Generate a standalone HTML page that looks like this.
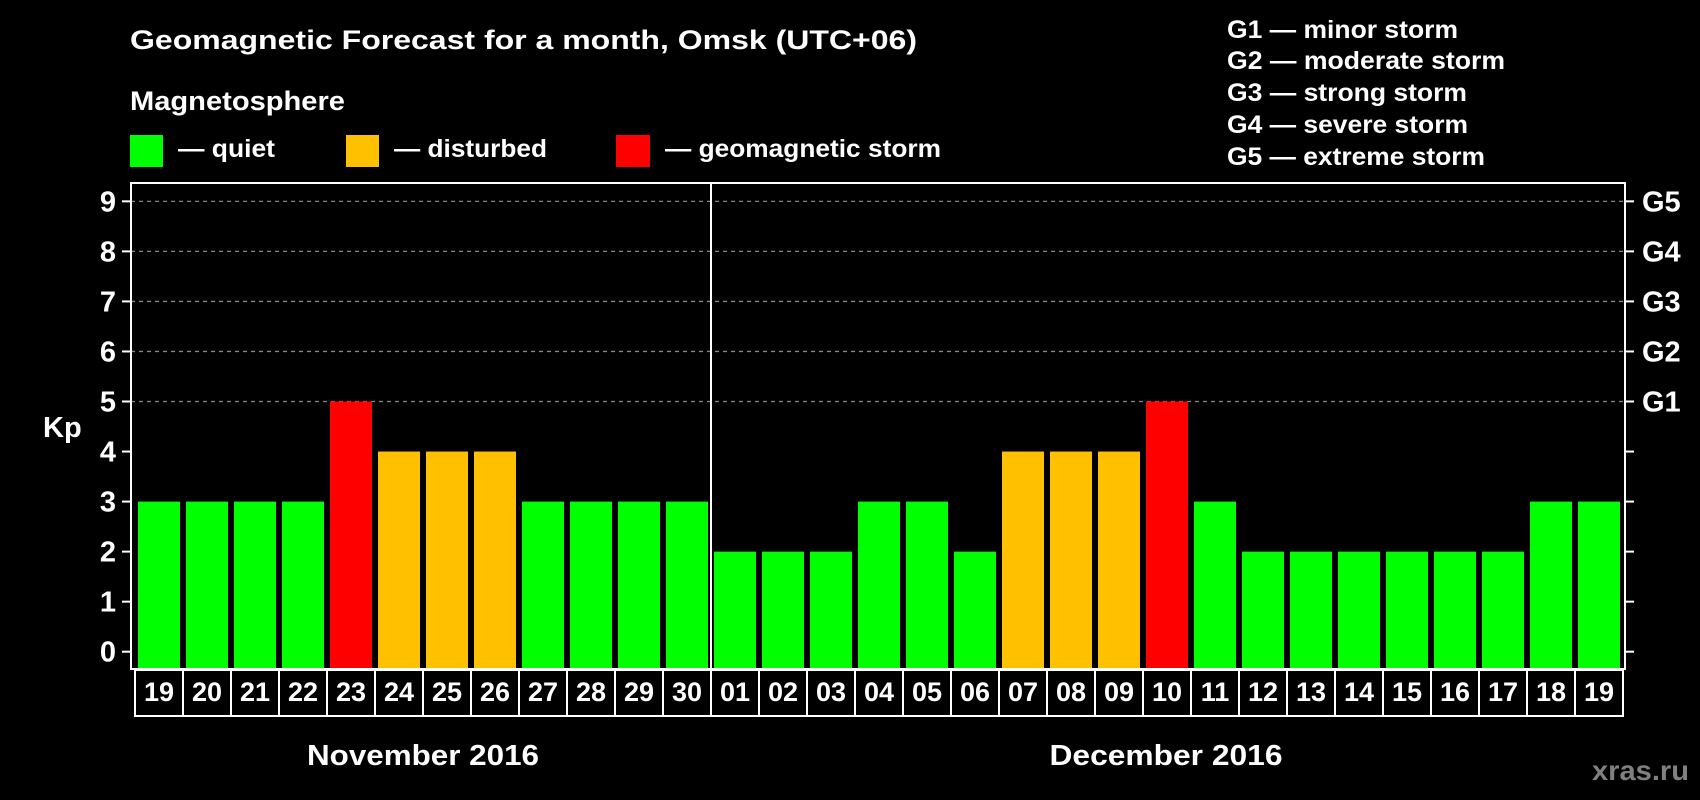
<!DOCTYPE html>
<html><head><meta charset="utf-8"><style>
html,body{margin:0;padding:0;background:#000;}
svg{display:block;font-family:"Liberation Sans",Arial,sans-serif;font-weight:bold;}
</style></head><body>
<svg id="chart" width="1700" height="800" viewBox="0 0 1700 800">
<rect x="0" y="0" width="1700" height="800" fill="#000"/>
<text x="130" y="49" font-size="27" fill="#fff" textLength="787" lengthAdjust="spacingAndGlyphs">Geomagnetic Forecast for a month, Omsk (UTC+06)</text>
<text x="130" y="110" font-size="27" fill="#fff" textLength="215" lengthAdjust="spacingAndGlyphs">Magnetosphere</text>
<g>
<rect x="130" y="135" width="33" height="32" fill="#00ff00"/>
<text x="178" y="157" font-size="25" fill="#fff" textLength="97" lengthAdjust="spacingAndGlyphs">— quiet</text>
</g>
<g>
<rect x="346" y="135" width="33" height="32" fill="#ffc000"/>
<text x="394" y="157" font-size="25" fill="#fff" textLength="153" lengthAdjust="spacingAndGlyphs">— disturbed</text>
</g>
<g>
<rect x="616" y="135" width="34" height="32" fill="#ff0000"/>
<text x="665" y="157" font-size="25" fill="#fff" textLength="276" lengthAdjust="spacingAndGlyphs">— geomagnetic storm</text>
</g>
<g>
<text x="1227" y="38" font-size="25" fill="#fff" textLength="231" lengthAdjust="spacingAndGlyphs">G1 — minor storm</text>
<text x="1227" y="69" font-size="25" fill="#fff" textLength="278" lengthAdjust="spacingAndGlyphs">G2 — moderate storm</text>
<text x="1227" y="101" font-size="25" fill="#fff" textLength="240" lengthAdjust="spacingAndGlyphs">G3 — strong storm</text>
<text x="1227" y="133" font-size="25" fill="#fff" textLength="241" lengthAdjust="spacingAndGlyphs">G4 — severe storm</text>
<text x="1227" y="165" font-size="25" fill="#fff" textLength="258" lengthAdjust="spacingAndGlyphs">G5 — extreme storm</text>
</g>
<g id="grid"></g>
<g id="bars"></g>
<rect x="131" y="183" width="1494" height="486" fill="none" stroke="#fff" stroke-width="2"/>
<line x1="711" y1="183" x2="711" y2="669" stroke="#fff" stroke-width="2"/>
<g id="yaxis"></g>
<g id="xaxis"></g>
<text x="43" y="437" font-size="29" fill="#fff">Kp</text>
<text x="423" y="765" font-size="29" fill="#fff" text-anchor="middle" textLength="232" lengthAdjust="spacingAndGlyphs">November 2016</text>
<text x="1166" y="765" font-size="29" fill="#fff" text-anchor="middle" textLength="233" lengthAdjust="spacingAndGlyphs">December 2016</text>
<text x="1689" y="780" font-size="28" fill="#808080" text-anchor="end" textLength="97" lengthAdjust="spacingAndGlyphs">xras.ru</text>
</svg>
<script>
const days = ["19","20","21","22","23","24","25","26","27","28","29","30","01","02","03","04","05","06","07","08","09","10","11","12","13","14","15","16","17","18","19"];
const kpValues = [3,3,3,3,5,4,4,4,3,3,3,3,2,2,2,3,3,2,4,4,4,5,3,2,2,2,2,2,2,3,3];
const yTicks = [0,1,2,3,4,5,6,7,8,9];
const gLevels = [5,6,7,8,9];
const gLabels = ["G1","G2","G3","G4","G5"];

const NS = "http://www.w3.org/2000/svg";
function yScale(v){ return 651.7 - 50.04*v; }
function xScale(i){ return 138 + 48*i; }
function colorFor(v){ return v >= 5 ? "#ff0000" : (v >= 4 ? "#ffc000" : "#00ff00"); }
function mk(tag, attrs, parent){
  const el = document.createElementNS(NS, tag);
  for (const k in attrs) el.setAttribute(k, attrs[k]);
  parent.appendChild(el);
  return el;
}
const grid = document.getElementById("grid");
const bars = document.getElementById("bars");
const yaxis = document.getElementById("yaxis");
const xaxis = document.getElementById("xaxis");

gLevels.forEach(function(v, i){
  const y = yScale(v);
  const gl = mk("line", {x1:131, x2:1625, y1:y, y2:y, stroke:"#888", "stroke-width":1.3, "stroke-dasharray":"4,4"}, grid);
  
  
  const gt = mk("text", {x:1642, y:y+10, "font-size":29, fill:"#fff"}, yaxis);
  gt.textContent = gLabels[i];
  
  
});

yTicks.forEach(function(v){
  const y = yScale(v);
  const tl = mk("line", {x1:122, x2:131, y1:y, y2:y, stroke:"#fff", "stroke-width":2}, yaxis);
  
  
  const tr = mk("line", {x1:1625, x2:1634, y1:y, y2:y, stroke:"#fff", "stroke-width":2}, yaxis);
  
  
  const t = mk("text", {x:116, y:y+10, "font-size":29, fill:"#fff", "text-anchor":"end"}, yaxis);
  t.textContent = String(v);
  
  
});

kpValues.forEach(function(v, i){
  const y = yScale(v);
  const b = mk("rect", {x:xScale(i), y:y, width:42, height:668 - y, fill:colorFor(v)}, bars);
  
  
});

days.forEach(function(d, i){
  const cx = xScale(i) - 3;
  const c = mk("rect", {x:cx, y:670, width:48, height:46, fill:"none", stroke:"#fff", "stroke-width":2}, xaxis);
  
  
  const t = mk("text", {x:cx+24, y:701, "font-size":27, fill:"#fff", "text-anchor":"middle"}, xaxis);
  t.textContent = d;
  
  
});
</script>
</body></html>
